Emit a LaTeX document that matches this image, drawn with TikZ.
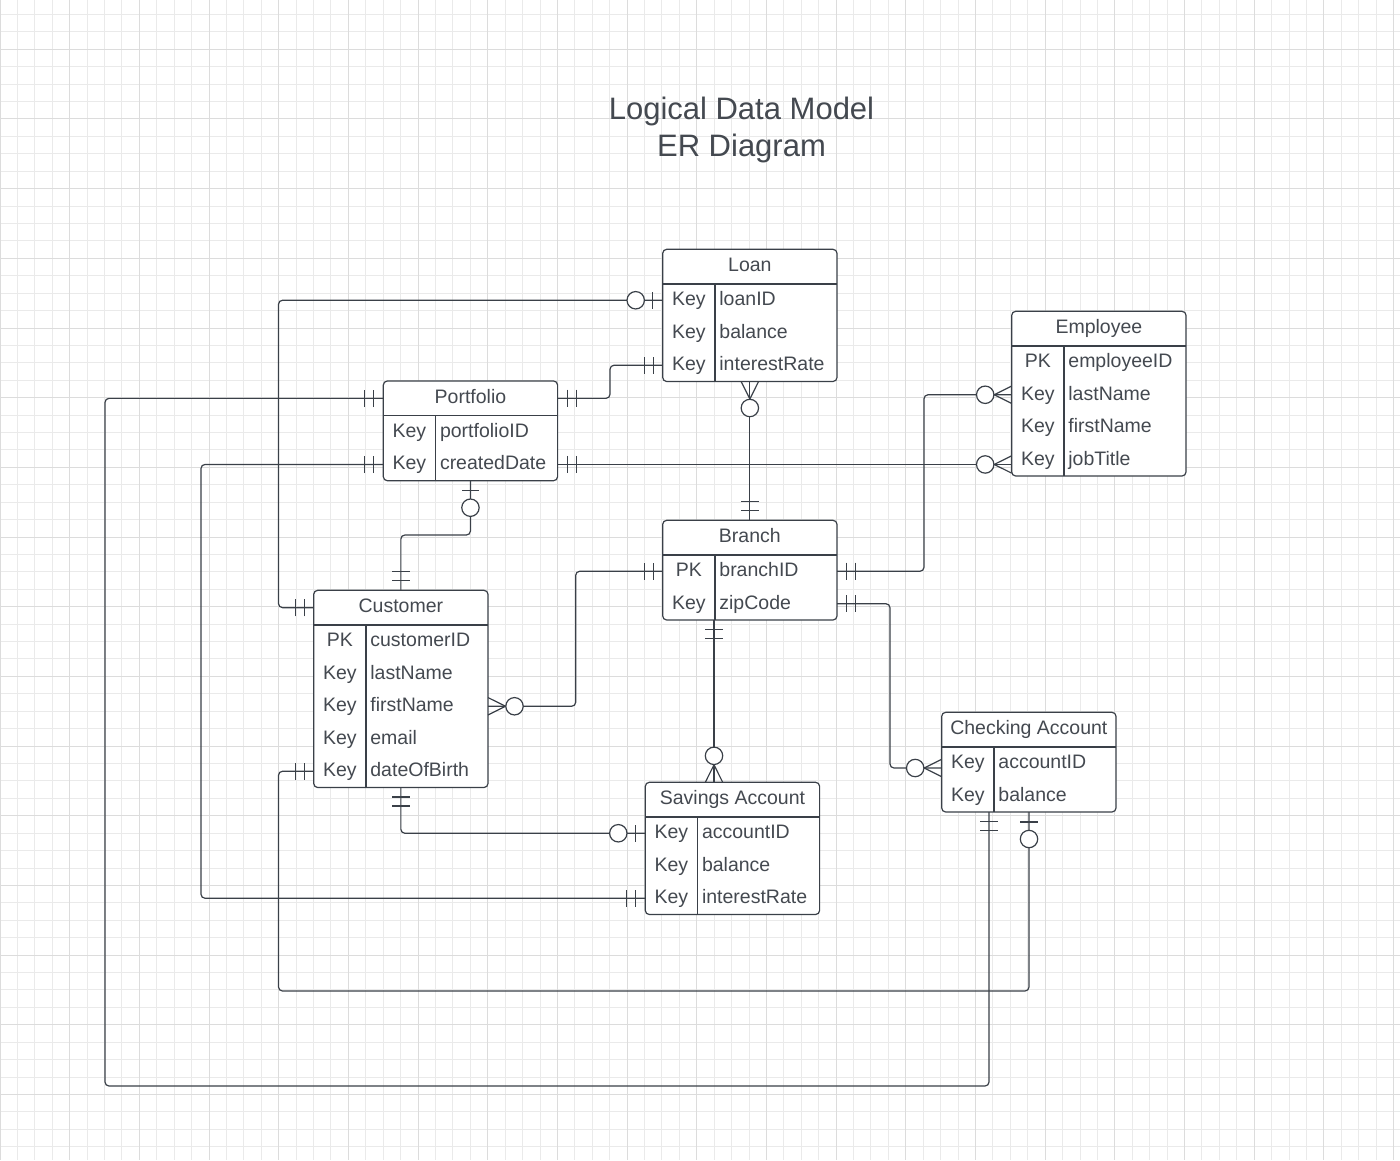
\documentclass[tikz,border=0pt]{standalone}
\usepackage{fontspec}
\setmainfont{Liberation Sans}
\usetikzlibrary{calc}
\definecolor{lnc}{RGB}{58,64,72}
\definecolor{txc}{RGB}{68,73,80}
\definecolor{gmin}{RGB}{234,234,234}
\definecolor{gmaj}{RGB}{220,220,220}
\tikzset{
 entbox/.style={draw=lnc, line width=1.2pt, fill=white, rounded corners=4pt, minimum width=174.3pt, inner sep=0pt, outer sep=0pt},
 rowbox/.style={inner sep=0pt, outer sep=0pt, minimum width=174.3pt, minimum height=32.5pt},
 boxline/.style={draw=lnc, line width=1.2pt},
 headt/.style={text=txc, font=\fontsize{19.5}{23}\selectfont, anchor=base, inner sep=0pt},
 keyt/.style={text=txc, font=\fontsize{19.5}{23}\selectfont, anchor=base, inner sep=0pt},
 fieldt/.style={text=txc, font=\fontsize{19.5}{23}\selectfont, anchor=base west, inner sep=0pt},
 titlet/.style={text=txc, font=\fontsize{31}{37}\selectfont, anchor=base, inner sep=0pt},
 conn/.style={draw=lnc, line width=1.2pt, rounded corners=4pt},
 gridmin/.style={draw=gmin, line width=1pt},
 gridmaj/.style={draw=gmaj, line width=1pt},
 mone/.pic={\draw[conn] (9.5,-8.7) -- (9.5,8.7) (18.5,-8.7) -- (18.5,8.7);},
 zone/.pic={\draw[conn] (10,-8.7) -- (10,8.7); \draw[conn, fill=white] (27,0) circle[radius=8.7];},
 zmany/.pic={\draw[conn, sharp corners] (0,-8.7) -- (17.5,0) -- (0,8.7); \draw[conn, fill=white] (26.5,0) circle[radius=8.7];}
}
\newcommand\erbox[6]{%
 \node[entbox, minimum height={34.7+32.5*#4}, anchor=north west] (#1) at (#2,#3) {};
 \node[rowbox, minimum height=34.7pt, anchor=north west] (#1-h) at (#2,#3) {};
 \node[headt] (#1-title) at ($(#1-h.center)+(0,5.2)$) {#5};
 \draw[boxline] (#1-h.south west) -- (#1-h.south east);
 \draw[boxline] ($(#1-h.south west)+(52.3,0)$) -- ($(#1.south west)+(52.3,0)$);
 \foreach \erK/\erF [count=\erI] in {#6} {
   \node[rowbox, anchor=north west] (#1-r\erI) at ($(#1-h.south west)+(0,{32.5*(\erI-1)})$) {};
   \node[keyt] (#1-k\erI) at ($(#1-r\erI.west)+(26.1,5.3)$) {\erK};
   \node[fieldt] (#1-f\erI) at ($(#1-r\erI.west)+(56.5,5.3)$) {\erF};
 }
}
\begin{document}
\begin{tikzpicture}[x=1pt, y=-1pt]
\useasboundingbox (0,0) rectangle (1400,1160);
\fill[white] (0,0) rectangle (1400,1160);
% grid (snapped to pixel centres)
\foreach \gi in {0,...,81} {\draw[gridmin] ({floor(\gi*17.42)+0.5},0) -- ({floor(\gi*17.42)+0.5},1160);}
\foreach \gj in {0,...,66} {\draw[gridmin] (0,{floor(14.46+\gj*17.42)+0.5}) -- (1400,{floor(14.46+\gj*17.42)+0.5});}
\foreach \gi in {0,...,20} {\draw[gridmaj] ({floor(\gi*69.68)+0.5},0) -- ({floor(\gi*69.68)+0.5},1160);}
\foreach \gj in {0,...,16} {\draw[gridmaj] (0,{floor(49.3+\gj*69.68)+0.5}) -- (1400,{floor(49.3+\gj*69.68)+0.5});}
% title
\node[titlet] (title1) at (741.5,119.5) {Logical Data Model};
\node[titlet] (title2) at (741.5,156.5) {ER Diagram};
% entities
\erbox{loan}{662.7}{249.3}{3}{Loan}{Key/loanID,Key/balance,Key/interestRate}
\erbox{port}{383.3}{381}{2}{Portfolio}{Key/portfolioID,Key/createdDate}
\erbox{cust}{313.7}{590.3}{5}{Customer}{PK/customerID,Key/lastName,Key/firstName,Key/email,Key/dateOfBirth}
\erbox{br}{662.7}{520.3}{2}{Branch}{PK/branchID,Key/zipCode}
\erbox{sav}{645.3}{782.3}{3}{Savings Account}{Key/accountID,Key/balance,Key/interestRate}
\erbox{chk}{941.7}{712.3}{2}{Checking Account}{Key/accountID,Key/balance}
\erbox{emp}{1011.7}{311.3}{4}{Employee}{PK/employeeID,Key/lastName,Key/firstName,Key/jobTitle}
% endpoint coordinates
\coordinate (br-b) at ($(br.south west)+(51.3,0)$);
\coordinate (sav-t) at ($(sav.north west)+(68.7,0)$);
\coordinate (chk-b1) at ($(chk.south west)+(47.3,0)$);
\coordinate (chk-b2) at ($(chk.south west)+(87.3,0)$);
\coordinate (chk-w) at ($(chk-r1.west)+(0,4.75)$);
\coordinate (emp-w4) at (emp.west |- port-r2.east);
% connectors
\draw[conn] (loan-r1.west) -| (278.5,607.65) -- (cust-h.west);
\draw[conn] (port-h.east) -| (610,365.25) -- (loan-r3.west);
\draw[conn] (loan.south) -- (br.north);
\draw[conn] (port-h.west) -| (105,1086) -| (chk-b1);
\draw[conn] (port-r2.west) -| (201,898.25) -- (sav-r3.west);
\draw[conn] (port-r2.east) -- (emp-w4);
\draw[conn] (port.south) |- (400.85,535) -- (cust.north);
\draw[conn] (br-r1.east) -| (924,394.75) -- (emp-r2.west);
\draw[conn] (br-r1.west) -| (575.7,706.25) -- (cust-r3.east);
\draw[conn] (br-r2.east) -| (890,768) -- (chk-w);
\draw[conn] (br-b) -- (sav-t);
\draw[conn] (cust.south) |- (sav-r1.west);
\draw[conn] (cust-r5.west) -| (278.5,991) -| (chk-b2);
% cardinality markers
\path (loan-r1.west) pic[rotate=180] {zone};
\path (cust-h.west) pic[rotate=180] {mone};
\path (port-h.east) pic {mone};
\path (loan-r3.west) pic[rotate=180] {mone};
\path (loan.south) pic[rotate=-90] {zmany};
\path (br.north) pic[rotate=90] {mone};
\path (port-h.west) pic[rotate=180] {mone};
\path (chk-b1) pic[rotate=-90] {mone};
\path (port-r2.west) pic[rotate=180] {mone};
\path (sav-r3.west) pic[rotate=180] {mone};
\path (port-r2.east) pic {mone};
\path (emp-w4) pic[rotate=180] {zmany};
\path (port.south) pic[rotate=-90] {zone};
\path (cust.north) pic[rotate=90] {mone};
\path (br-r1.east) pic {mone};
\path (emp-r2.west) pic[rotate=180] {zmany};
\path (br-r1.west) pic[rotate=180] {mone};
\path (cust-r3.east) pic {zmany};
\path (br-r2.east) pic {mone};
\path (chk-w) pic[rotate=180] {zmany};
\path (br-b) pic[rotate=-90] {mone};
\path (sav-t) pic[rotate=90] {zmany};
\path (cust.south) pic[rotate=-90] {mone};
\path (sav-r1.west) pic[rotate=180] {zone};
\path (cust-r5.west) pic[rotate=180] {mone};
\path (chk-b2) pic[rotate=-90] {zone};
\end{tikzpicture}
\end{document}
